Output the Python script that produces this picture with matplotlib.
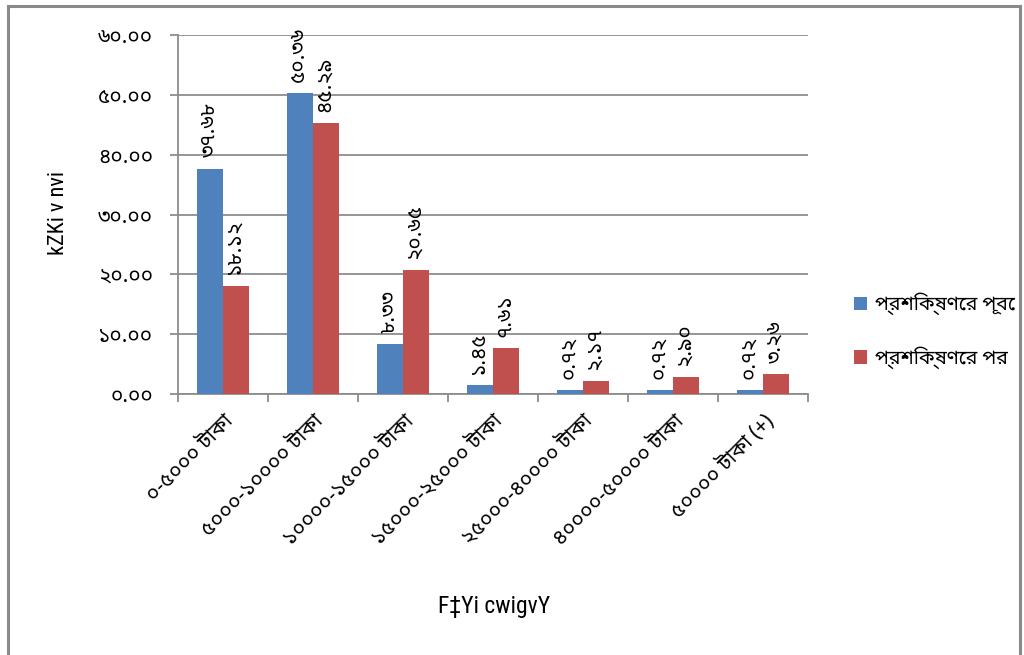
import matplotlib
matplotlib.use("Agg")
import matplotlib.pyplot as plt
import numpy as np
from matplotlib import font_manager
from matplotlib.lines import Line2D

# Income ranges (Bengali) and share of respondents before / after training
categories = ["০-৫০০০ টাকা", "৫০০০-১০০০০ টাকা", "১০০০০-১৫০০০ টাকা", "১৫০০০-২৫০০০ টাকা",
              "২৫০০০-৪০০০০ টাকা", "৪০০০০-৫০০০০ টাকা", "৫০০০০ টাকা (+)"]
before = [37.68, 50.36, 8.33, 1.45, 0.72, 0.72, 0.72]
after = [18.12, 45.29, 20.65, 7.61, 2.17, 2.90, 3.26]
series_names = ["প্রশিক্ষণের পূবে", "প্রশিক্ষণের পর"]
y_ticks = [0, 10, 20, 30, 40, 50, 60]
y_label = "kZKi v nvi"
x_label = "F‡Yi cwigvY"

BN_DIGITS = str.maketrans("0123456789", "০১২৩৪৫৬৭৮৯")


def bn(s):
    return s.translate(BN_DIGITS)


def pick_font(names, default):
    available = {f.name for f in font_manager.fontManager.ttflist}
    for n in names:
        if n in available:
            return n
    return default


bn_font = pick_font(["Noto Sans Bengali", "Hind Siliguri", "Anek Bangla", "Baloo Da 2", "FreeSans"],
                    "DejaVu Sans")
narrow = pick_font(["Liberation Sans Narrow", "Arial Narrow", "Roboto Condensed", "PT Sans Narrow",
                    "Archivo Narrow", "Open Sans Condensed", "Pragati Narrow", "Asap Condensed",
                    "Fira Sans Condensed", "IBM Plex Sans Condensed"], "Liberation Sans")
plt.rcParams["font.family"] = [bn_font, "DejaVu Sans"]

BLUE = "#4F81BD"
RED = "#C0504D"
GRID = "#8C8C8C"

fig = plt.figure(figsize=(10.24, 6.55), dpi=100)
ax = fig.add_axes([178 / 1024, 1 - 394 / 655, 630 / 1024, 359 / 655])

x = np.arange(len(categories))
w = 1 / 3.5
ax.bar(x - w / 2, before, w, color=BLUE, label=series_names[0], zorder=3)
ax.bar(x + w / 2, after, w, color=RED, label=series_names[1], zorder=3)

for xi, v in zip(x - w / 2, before):
    ax.annotate(bn(f"{v:.2f}"), (xi, v), xytext=(-1, 8), textcoords="offset points",
                rotation=90, ha="center", va="bottom", fontsize=15)
for xi, v in zip(x + w / 2, after):
    ax.annotate(bn(f"{v:.2f}"), (xi, v), xytext=(-1, 8), textcoords="offset points",
                rotation=90, ha="center", va="bottom", fontsize=15)

ax.set_xlim(-0.5, len(categories) - 0.5)
ax.set_ylim(0, 60)
ax.set_yticks(y_ticks)
ax.set_yticklabels([bn(f"{t:.2f}") for t in y_ticks], fontsize=15)
ax.yaxis.grid(True, color=GRID, linewidth=1.3, zorder=0)
ax.set_axisbelow(True)

ax.set_xticks(x)
ax.set_xticklabels(categories, rotation=45, ha="right", va="top",
                   rotation_mode="anchor", fontsize=15)
ax.set_xticks(np.arange(len(categories) + 1) - 0.5, minor=True)
ax.tick_params(axis="x", which="major", length=0, pad=12)
ax.tick_params(axis="x", which="minor", length=6, color=GRID, width=1.3, direction="out")
ax.tick_params(axis="y", length=6, color=GRID, width=1.3, direction="out", pad=12)

for side in ("top", "right"):
    ax.spines[side].set_visible(False)
for side in ("left", "bottom"):
    ax.spines[side].set_color(GRID)
    ax.spines[side].set_linewidth(1.3)

fig.text(59 / 1024, 1 - 213 / 655, y_label, rotation=90, ha="center", va="center",
         fontsize=16, family=narrow)
fig.text(494 / 1024, 1 - 606 / 655, x_label, ha="center", va="center",
         fontsize=17, family=narrow)

ax.legend(loc="center left", bbox_to_anchor=(836 / 1024, 1 - 331 / 655),
          bbox_transform=fig.transFigure, frameon=False, fontsize=14,
          handlelength=0.7, handleheight=0.7, handletextpad=0.4, labelspacing=1.6)

# frame around the whole chart
bc = "#8A8A8A"
for xs, ys in (([8, 8], [655, 6]), ([8, 1020], [6, 6]), ([1020, 1020], [6, 655])):
    fig.add_artist(Line2D([v / 1024 for v in xs], [1 - v / 655 for v in ys], color=bc, lw=2.2,
                          transform=fig.transFigure))

fig.savefig("out.png", dpi=100)
